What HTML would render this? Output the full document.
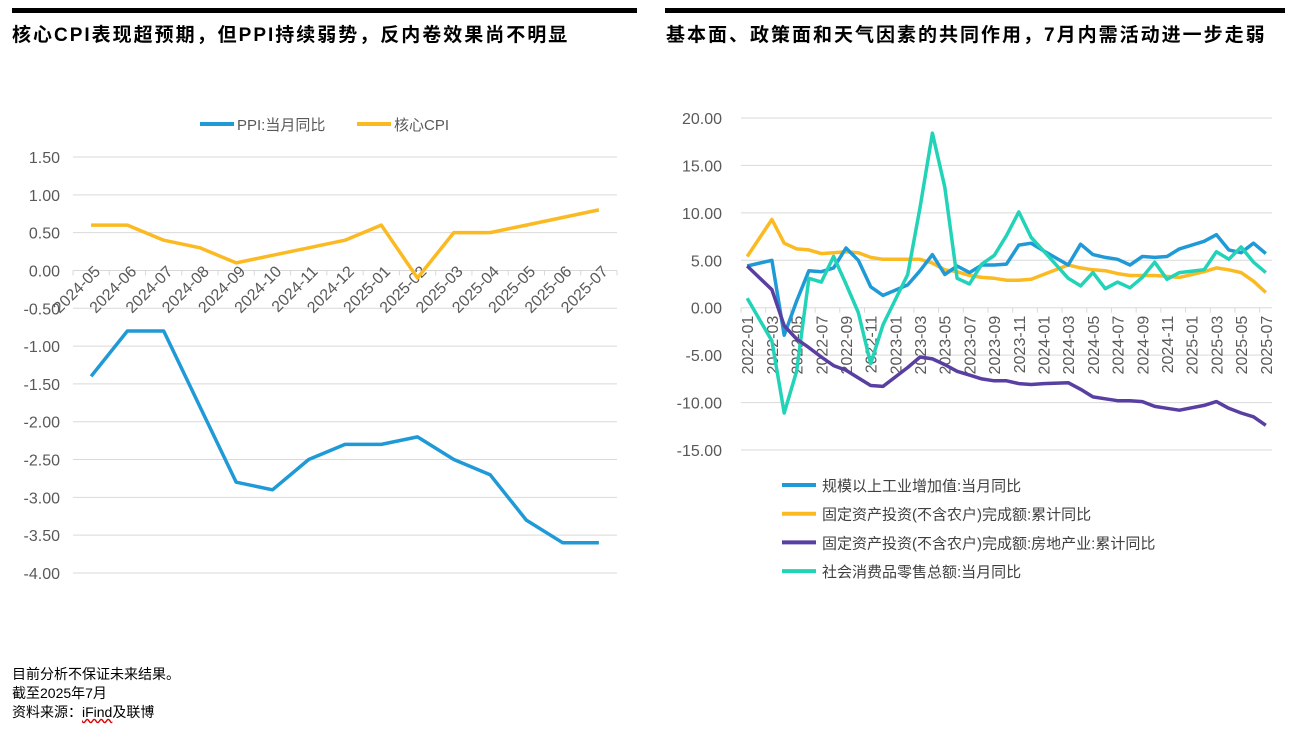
<!DOCTYPE html>
<html><head><meta charset="utf-8">
<style>
body{margin:0;width:1298px;height:732px;background:#fff;font-family:"Liberation Sans","Noto Sans CJK SC",sans-serif;overflow:hidden;position:relative}
.bar{position:absolute;height:5px;background:#000;top:8px}
.title{position:absolute;top:20px;font-size:19px;letter-spacing:2px;font-weight:bold;color:#000;white-space:nowrap}
.foot{position:absolute;left:12px;font-size:14px;color:#000}
svg{position:absolute;left:0;top:0}
</style></head><body>
<div class="bar" style="left:12px;width:625px"></div>
<div class="bar" style="left:665px;width:620px"></div>
<div class="title" style="left:12px">核心CPI表现超预期，但PPI持续弱势，反内卷效果尚不明显</div>
<div class="title" style="left:666px">基本面、政策面和天气因素的共同作用，7月内需活动进一步走弱</div>
<div class="foot" style="top:664px">目前分析不保证未来结果。</div>
<div class="foot" style="top:683px">截至2025年7月</div>
<div class="foot" style="top:702px">资料来源：<span style="text-decoration:underline wavy #d00">iFind</span>及联博</div>
<svg id="chart" width="1298" height="732"></svg>
<script>
// Left chart data
const leftCats=["2024-05","2024-06","2024-07","2024-08","2024-09","2024-10","2024-11","2024-12","2025-01","2025-02","2025-03","2025-04","2025-05","2025-06","2025-07"];
const ppi=[-1.4,-0.8,-0.8,-1.8,-2.8,-2.9,-2.5,-2.3,-2.3,-2.2,-2.5,-2.7,-3.3,-3.6,-3.6];
const coreCpi=[0.6,0.6,0.4,0.3,0.1,0.2,0.3,0.4,0.6,-0.1,0.5,0.5,0.6,0.7,0.8];
const leftTicks=[1.5,1.0,0.5,0.0,-0.5,-1.0,-1.5,-2.0,-2.5,-3.0,-3.5,-4.0];
// Right chart data
const rightCats=[];
for(let y=2022;y<=2025;y++)for(let m=1;m<=12;m++){if(y===2025&&m>7)break;rightCats.push(y+"-"+String(m).padStart(2,"0"));}
const iva=[4.4,null,5.0,-2.9,0.7,3.9,3.8,4.2,6.3,5.0,2.2,1.3,null,2.4,3.9,5.6,3.5,4.4,3.7,4.5,4.5,4.6,6.6,6.8,6.0,null,4.5,6.7,5.6,5.3,5.1,4.5,5.4,5.3,5.4,6.2,null,7.0,7.7,6.1,5.8,6.8,5.7];
const fai=[5.4,null,9.3,6.8,6.2,6.1,5.7,5.8,5.9,5.8,5.3,5.1,null,5.1,5.1,4.7,4.0,3.8,3.4,3.2,3.1,2.9,2.9,3.0,3.5,null,4.5,4.2,4.0,3.9,3.6,3.4,3.4,3.4,3.3,3.2,null,3.8,4.2,4.0,3.7,2.8,1.6];
const realEstate=[4.4,null,1.9,-1.9,-3.3,-4.2,-5.2,-6.1,-6.6,-7.4,-8.2,-8.3,null,-6.3,-5.2,-5.4,-6.0,-6.7,-7.1,-7.5,-7.7,-7.7,-8.0,-8.1,-8.0,null,-7.9,-8.6,-9.4,-9.6,-9.8,-9.8,-9.9,-10.4,-10.6,-10.8,null,-10.3,-9.9,-10.6,-11.1,-11.5,-12.4];
const retail=[1.0,null,-3.5,-11.1,-6.7,3.1,2.7,5.4,2.5,-0.5,-5.9,-1.8,null,3.5,10.6,18.4,12.7,3.1,2.5,4.6,5.5,7.6,10.1,7.4,6.0,null,3.1,2.3,3.7,2.0,2.7,2.1,3.2,4.8,3.0,3.7,null,4.0,5.9,5.1,6.4,4.8,3.7];
const rightTicks=[20,15,10,5,0,-5,-10,-15];

const NS="http://www.w3.org/2000/svg";
const svg=document.getElementById("chart");
function el(tag,attrs,parent){const e=document.createElementNS(NS,tag);for(const k in attrs)e.setAttribute(k,attrs[k]);(parent||svg).appendChild(e);return e;}
function txt(s,attrs,parent){const e=el("text",attrs,parent);e.textContent=s;return e;}

// LEFT
const L={x0:73,x1:617,yTop:157,yBot:573,vTop:1.5,vBot:-4};
const lx=i=>L.x0+(L.x1-L.x0)/leftCats.length*(i+0.5);
const ly=v=>L.yTop+(L.vTop-v)/(L.vTop-L.vBot)*(L.yBot-L.yTop);
leftTicks.forEach(t=>{
  const g=el("line",{x1:L.x0,x2:L.x1,y1:ly(t),y2:ly(t),stroke:"#d9d9d9","stroke-width":1});
  
  
  const tl=txt(t.toFixed(2),{x:60,y:ly(t)+6,"text-anchor":"end","font-size":16,fill:"#595959"});
  
  
});
const lcw=(L.x1-L.x0)/leftCats.length;
for(let i=0;i<=leftCats.length;i++){
  const tk=el("line",{x1:L.x0+lcw*i,x2:L.x0+lcw*i,y1:ly(0),y2:ly(0)+5,stroke:"#d9d9d9"});
  
  
}
leftCats.forEach((c,i)=>{
  const x=lx(i)+10,y=ly(0)+2;
  const t=txt(c,{x:x,y:y,"text-anchor":"end","font-size":16,fill:"#595959",transform:`rotate(-45 ${x} ${y})`});
  
  
});
function path(vals,xf,yf,color,name){
  let d="",first=true;
  vals.forEach((v,i)=>{if(v===null)return;d+=(first?"M":"L")+xf(i).toFixed(1)+","+yf(v).toFixed(1);first=false;});
  const p=el("path",{d:d,fill:"none",stroke:color,"stroke-width":3.5,"stroke-linejoin":"round"});
  
  
}
path(ppi,lx,ly,"#1f9ad6","ppi-line");
path(coreCpi,lx,ly,"#fbba22","core-cpi-line");
// left legend
[[200,"#1f9ad6","PPI:当月同比"],[357,"#fbba22","核心CPI"]].forEach(([x,c,s])=>{
  const l=el("line",{x1:x,x2:x+34,y1:124,y2:124,stroke:c,"stroke-width":4});
  
  
  const t=txt(s,{x:x+37,y:130,"font-size":15,fill:"#595959"});
  
  
});

// RIGHT
const R={x0:741,x1:1272,yTop:118,yBot:450,vTop:20,vBot:-15};
const rx=i=>R.x0+(R.x1-R.x0)/rightCats.length*(i+0.5);
const ry=v=>R.yTop+(R.vTop-v)/(R.vTop-R.vBot)*(R.yBot-R.yTop);
rightTicks.forEach(t=>{
  const g=el("line",{x1:R.x0,x2:R.x1,y1:ry(t),y2:ry(t),stroke:"#d9d9d9","stroke-width":1});
  
  
  const tl=txt(t.toFixed(2),{x:722,y:ry(t)+6,"text-anchor":"end","font-size":16,fill:"#595959"});
  
  
});
const rcw=(R.x1-R.x0)/rightCats.length;
for(let i=0;i<=rightCats.length;i+=2){
  const tk=el("line",{x1:R.x0+rcw*i,x2:R.x0+rcw*i,y1:ry(0),y2:ry(0)+5,stroke:"#d9d9d9"});
  
  
}
rightCats.forEach((c,i)=>{
  if(i%2)return;
  const x=rx(i)+6,y=ry(0)+8;
  const t=txt(c,{x:x,y:y,"text-anchor":"end","font-size":16,fill:"#595959",transform:`rotate(-90 ${x} ${y})`});
  
  
});
path(fai,rx,ry,"#fbba22","fai-line");
path(iva,rx,ry,"#1f9ad6","industrial-value-added-line");
path(retail,rx,ry,"#22d3b8","retail-sales-line");
path(realEstate,rx,ry,"#5a3fa2","real-estate-investment-line");
[["#1f9ad6","规模以上工业增加值:当月同比"],["#fbba22","固定资产投资(不含农户)完成额:累计同比"],["#5a3fa2","固定资产投资(不含农户)完成额:房地产业:累计同比"],["#22d3b8","社会消费品零售总额:当月同比"]].forEach(([c,s],k)=>{
  const y=485+k*28.7;
  const l=el("line",{x1:782,x2:816,y1:y,y2:y,stroke:c,"stroke-width":4});
  
  
  const t=txt(s,{x:822,y:y+6,"font-size":15,fill:"#404040"});
  
  
});
</script>
</body></html>
